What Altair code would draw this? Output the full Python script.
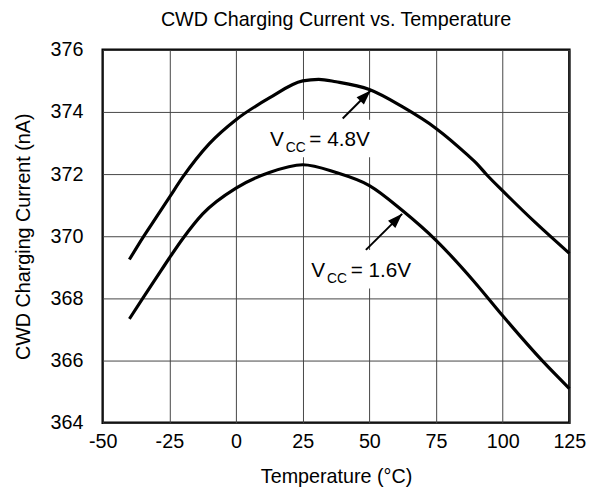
import altair as alt
import pandas as pd

FONT = "Liberation Sans"

# VCC = 4.8 V curve
temp_48 = [-40, -35, -30, -25, -20, -10, 0, 12.5, 25, 31, 37.5, 50, 62.5, 75, 87, 90, 94, 100, 112.5, 125]
curr_48 = [369.25, 369.95, 370.60, 371.25, 371.90, 372.98, 373.75, 374.45, 375.00, 375.05, 374.97,
           374.72, 374.16, 373.47, 372.60, 372.36, 371.98, 371.46, 370.42, 369.45]

# VCC = 1.6 V curve
temp_16 = [-40, -35, -30, -25, -20, -12.5, 0, 12.5, 25, 37.5, 50, 62.5, 75, 89, 100, 115, 125]
curr_16 = [367.34, 368.00, 368.65, 369.30, 369.92, 370.72, 371.55, 372.05, 372.30, 372.05, 371.63,
           370.82, 369.87, 368.57, 367.44, 365.98, 365.10]

x_ticks = [-50, -25, 0, 25, 50, 75, 100, 125]
y_ticks = [364, 366, 368, 370, 372, 374, 376]

# annotations (data units)
lab_main = ["V", "V"]
lab_sub = ["CC", "CC"]
lab_rest = ["= 4.8V", "= 1.6V"]
lab_t = [12.7, 28.2]
lab_i = [372.89, 368.69]
box_t1 = [10.8, 26.5]
box_t2 = [52.4, 67.2]
box_i1 = [373.75, 369.56]
box_i2 = [372.54, 368.32]
arr_t1 = [40.0, 48.7]
arr_i1 = [373.79, 369.56]
arr_t2 = [50.5, 62.3]
arr_i2 = [374.69, 370.72]

df = pd.concat([
    pd.DataFrame({"temp": temp_48, "current": curr_48, "series": "4.8V"}),
    pd.DataFrame({"temp": temp_16, "current": curr_16, "series": "1.6V"}),
])
ann = pd.DataFrame({
    "main": lab_main, "sub": lab_sub, "rest": lab_rest, "t": lab_t, "i": lab_i,
    "bt1": box_t1, "bt2": box_t2, "bi1": box_i1, "bi2": box_i2,
    "at1": arr_t1, "ai1": arr_i1, "at2": arr_t2, "ai2": arr_i2,
})

xs = alt.Scale(domain=[-50, 125], nice=False, zero=False)
ys = alt.Scale(domain=[364, 376], nice=False, zero=False)

x_axis = alt.Axis(values=x_ticks, title="Temperature (°C)", grid=True, ticks=False, domain=False,
                  labelPadding=9, titlePadding=16, labelFlush=False,
                  labelExpr="'' + datum.value")
y_axis = alt.Axis(values=y_ticks, title="CWD Charging Current (nA)", grid=True, ticks=False,
                  domain=False, labelPadding=20, titlePadding=17, labelFlush=False)

lines = alt.Chart(df).mark_line(color="black", strokeWidth=3.2, interpolate="monotone").encode(
    x=alt.X("temp:Q", scale=xs, axis=x_axis),
    y=alt.Y("current:Q", scale=ys, axis=y_axis),
    detail="series:N",
)

a = alt.Chart(ann)
boxes = a.mark_rect(fill="white").encode(
    x=alt.X("bt1:Q", scale=xs), x2="bt2:Q", y=alt.Y("bi1:Q", scale=ys), y2="bi2:Q")
shafts = a.mark_rule(color="black", strokeWidth=2).encode(
    x=alt.X("at1:Q", scale=xs), y=alt.Y("ai1:Q", scale=ys), x2="at2:Q", y2="ai2:Q")
heads = a.mark_point(shape="M0,0L-0.35,1L0.35,1Z", size=900, filled=True, color="black",
                     opacity=1, strokeWidth=0, angle=45).encode(
    x=alt.X("at2:Q", scale=xs), y=alt.Y("ai2:Q", scale=ys))
t_main = a.mark_text(align="left", baseline="alphabetic", font=FONT, fontSize=21, color="black").encode(
    x=alt.X("t:Q", scale=xs), y=alt.Y("i:Q", scale=ys), text="main:N")
t_sub = a.mark_text(align="left", baseline="alphabetic", font=FONT, fontSize=14, color="black",
                    dx=16, dy=6).encode(
    x=alt.X("t:Q", scale=xs), y=alt.Y("i:Q", scale=ys), text="sub:N")
t_rest = a.mark_text(align="left", baseline="alphabetic", font=FONT, fontSize=21, color="black",
                     dx=40).encode(
    x=alt.X("t:Q", scale=xs), y=alt.Y("i:Q", scale=ys), text="rest:N")

chart = alt.layer(lines, boxes, shafts, heads, t_main, t_sub, t_rest).properties(
    width=473, height=378,
    background="white",
    autosize=alt.AutoSizeParams(type="none"),
    padding={"left": 96, "top": 39, "right": 27, "bottom": 76},
    title=alt.TitleParams(text="CWD Charging Current vs. Temperature", font=FONT, fontSize=20,
                          fontWeight="normal", color="black", anchor="middle", frame="group",
                          offset=10),
).configure_view(stroke="black", strokeWidth=2.5).configure_axis(
    labelFont=FONT, labelFontSize=20, labelColor="black", titleFont=FONT, titleFontSize=20,
    titleFontWeight="normal", titleColor="black", gridColor="#444444", gridWidth=1, gridOpacity=1,
)

chart.save("out.html", embed_options={"renderer": "svg", "actions": False})
